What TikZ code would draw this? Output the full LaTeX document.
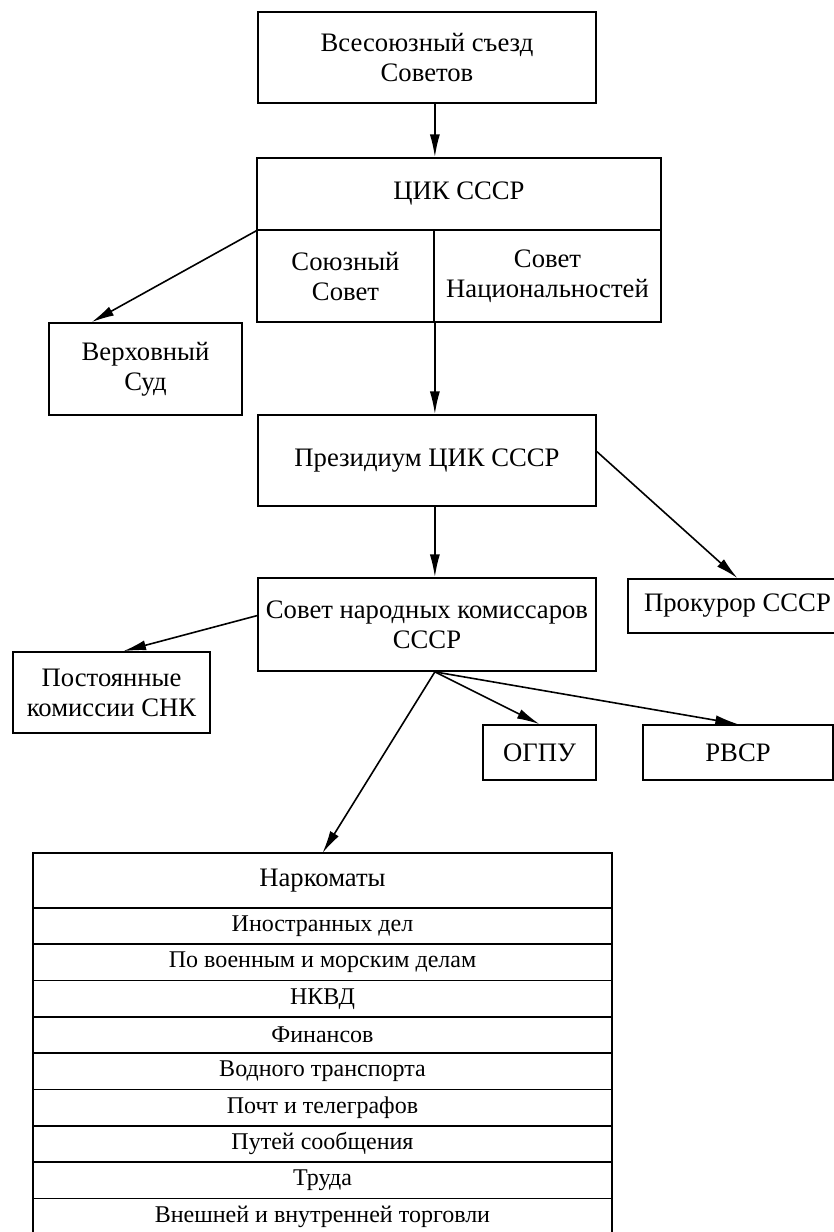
\documentclass[tikz,border=0pt]{standalone}
\usepackage{fontspec}
\setmainfont{Liberation Serif}
\usepackage{tikz}
\usetikzlibrary{shapes,arrows.meta,positioning}
\newcommand{\px}{0.75pt}
\tikzstyle{block} = [rectangle, draw, line width=1.3pt, align=center,
    inner sep=0pt, font=\fontsize{20}{22.5}\selectfont]
\tikzstyle{row} = [rectangle, draw, line width=1.3pt, align=center,
    inner sep=0pt, outer sep=0pt, minimum width=579*\px,
    minimum height=36.3*\px, font=\fontsize{18}{20}\selectfont]
\tikzstyle{line} = [draw, line width=1.2pt, -{Latex[length=17pt, width=7.5pt]}]

\begin{document}
\begin{tikzpicture}[x=\px, y=-\px]
    \useasboundingbox (0,0) rectangle (834,1232);
    \clip (0,0) rectangle (834,1232);
    % Place nodes
    \node [block, minimum width=338*\px, minimum height=91*\px] (congress) at (427,57.5) {Всесоюзный съезд\\Советов};
    \node [block, minimum width=404*\px, minimum height=72*\px] (cik) at (459,194) {ЦИК СССР};
    \node [block, minimum width=177*\px, minimum height=92*\px] (union) at (345.5,276) {Союзный\\Совет};
    \node [block, minimum width=227*\px, minimum height=92*\px] (nation) at (547.5,276) {Совет\\Национальностей};
    \node [block, minimum width=193*\px, minimum height=92*\px] (supreme) at (145.5,369) {Верховный\\Суд};
    \node [block, minimum width=338*\px, minimum height=91*\px] (presidium) at (427,460.5) {Президиум ЦИК СССР};
    \node [block, minimum width=338*\px, minimum height=93*\px] (snk) at (427,624.5) {Совет народных комиссаров\\СССР};
    \node [block, minimum width=219*\px, minimum height=54*\px] (prosecutor) at (737.5,606) {Прокурор СССР};
    \node [block, minimum width=197*\px, minimum height=81*\px] (commissions) at (111.5,692.5) {Постоянные\\комиссии СНК};
    \node [block, minimum width=113*\px, minimum height=55*\px] (ogpu) at (539.5,752.5) {ОГПУ};
    \node [block, minimum width=190*\px, minimum height=55*\px] (rvsr) at (738,752.5) {РВСР};
    % Table of commissariats
    \node [block, outer sep=0pt, minimum width=579*\px, minimum height=55*\px, alias=dept0] (narkom) at (322.5,880.5) {Наркоматы};
    \foreach \dept [count=\i, remember=\i as \last (initially 0)] in
        {Иностранных дел, По военным и морским делам, НКВД, Финансов,
         Водного транспорта, Почт и телеграфов, Путей сообщения, Труда,
         Внешней и внутренней торговли}
        \node [row, below=0pt of dept\last] (dept\i) {\dept};
    % Draw edges
    \path [line] (congress.south -| union.east) -- (cik.north -| union.east);
    \path [line] (cik.south west) -- (supreme.139);
    \path [line] (union.south east) -- (presidium.north -| union.east);
    \path [line] (presidium.south -| union.east) -- (snk.north -| union.east);
    \path [line] (presidium.3) -- (prosecutor.north);
    \path [line] (snk.177.5) -- (commissions.74);
    \path [line] (snk.south -| union.east) -- (ogpu.north);
    \path [line] (snk.south -| union.east) -- (rvsr.north);
    \path [line] (snk.south -| union.east) -- (narkom.north);
\end{tikzpicture}
\end{document}
